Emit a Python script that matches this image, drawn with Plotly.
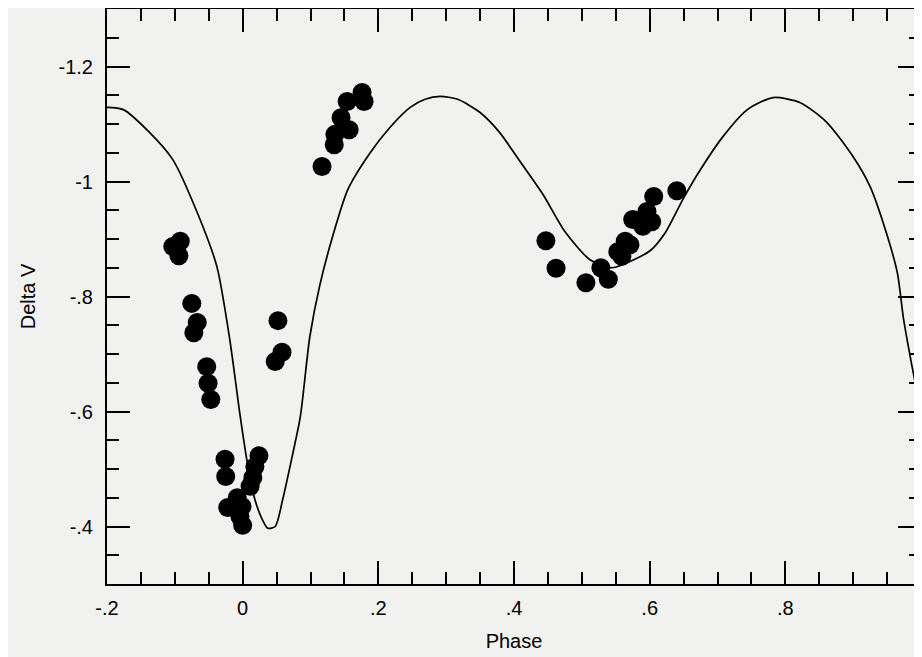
import plotly.graph_objects as go

# Observed data points (phase, delta V)
obs_phase = [-0.092, -0.103, -0.094, -0.075, -0.067, -0.072, -0.053, -0.051, -0.047,
             0.052, 0.058, 0.048,
             -0.026, -0.025, 0.024, 0.018, 0.015, 0.011, -0.008, -0.022, -0.001, -0.004, 0.000,
             0.176, 0.179, 0.154, 0.145, 0.157, 0.136, 0.135, 0.117,
             0.447, 0.462, 0.506, 0.528, 0.539, 0.553, 0.559, 0.564, 0.571, 0.575, 0.590,
             0.603, 0.596, 0.606, 0.640]
obs_dv = [-0.896, -0.887, -0.871, -0.788, -0.755, -0.737, -0.678, -0.649, -0.621,
          -0.758, -0.703, -0.687,
          -0.517, -0.487, -0.523, -0.504, -0.485, -0.470, -0.450, -0.433, -0.435, -0.417, -0.402,
          -1.155, -1.139, -1.139, -1.111, -1.090, -1.082, -1.064, -1.026,
          -0.897, -0.849, -0.824, -0.850, -0.830, -0.878, -0.870, -0.896, -0.890, -0.934, -0.922,
          -0.930, -0.948, -0.974, -0.984]

# Model light curve
model_phase = [-0.200, -0.176, -0.137, -0.103, -0.067, -0.038, -0.019, -0.004,
               0.006, 0.018, 0.029, 0.037, 0.048, 0.059, 0.073, 0.085, 0.099, 0.114,
               0.133, 0.155, 0.188, 0.217, 0.247, 0.269, 0.291, 0.317, 0.350, 0.379,
               0.410, 0.443, 0.475, 0.512, 0.545, 0.575, 0.601, 0.623, 0.649, 0.674,
               0.708, 0.744, 0.782, 0.822, 0.861, 0.900, 0.925, 0.944, 0.965, 0.974,
               0.984, 0.994, 1.000]
model_dv = [-1.129, -1.125, -1.085, -1.038, -0.946, -0.852, -0.725, -0.595,
            -0.517, -0.447, -0.412, -0.397, -0.400, -0.447, -0.522, -0.591, -0.730, -0.821,
            -0.906, -0.986, -1.050, -1.094, -1.129, -1.143, -1.148, -1.143, -1.120, -1.085,
            -1.033, -0.977, -0.913, -0.864, -0.850, -0.863, -0.880, -0.911, -0.969, -1.019,
            -1.078, -1.125, -1.146, -1.137, -1.103, -1.043, -0.991, -0.929, -0.842, -0.763,
            -0.696, -0.633, -0.584]

x_tickvals = [-0.2, 0, 0.2, 0.4, 0.6, 0.8, 1.0]
x_ticktext = ["-.2", "0", ".2", ".4", ".6", ".8", "1"]
y_tickvals = [-1.2, -1.0, -0.8, -0.6, -0.4]
y_ticktext = ["-1.2", "-1", "-.8", "-.6", "-.4"]

FONT = "Liberation Sans, Arial, Helvetica, sans-serif"
BG = "#f1f1ef"

fig = go.Figure()
fig.add_trace(go.Scatter(x=model_phase, y=model_dv, mode="lines",
                         line=dict(color="black", width=1.7, shape="spline", smoothing=0.7),
                         hoverinfo="skip", showlegend=False))
fig.add_trace(go.Scatter(x=obs_phase, y=obs_dv, mode="markers",
                         marker=dict(color="black", size=19, line=dict(width=0)),
                         showlegend=False))

axis_common = dict(showgrid=False, zeroline=False, showline=True, linecolor="black",
                   linewidth=2, mirror="ticks", ticks="inside", tickcolor="black",
                   tickwidth=2, ticklen=23, automargin=False,
                   tickfont=dict(family=FONT, size=20, color="black"))

fig.update_xaxes(range=[-0.2, 1.0], tickmode="array", tickvals=x_tickvals, ticktext=x_ticktext,
                 minor=dict(dtick=0.05, tick0=0, ticks="inside", ticklen=12, tickwidth=2,
                            tickcolor="black", showgrid=False),
                 title=dict(text="Phase", font=dict(family=FONT, size=20, color="black"),
                            standoff=16),
                 ticklabelstandoff=5, ticklabeloverflow="allow",
                 **axis_common)
fig.update_yaxes(range=[-0.3, -1.3], tickmode="array", tickvals=y_tickvals, ticktext=y_ticktext,
                 minor=dict(dtick=0.05, tick0=0, ticks="inside", ticklen=12, tickwidth=2,
                            tickcolor="black", showgrid=False),
                 title=dict(text="Delta V", font=dict(family=FONT, size=20, color="black"),
                            standoff=18),
                 ticklabelstandoff=8,
                 **axis_common)

fig.update_layout(width=914, height=649,
                  margin=dict(l=99, r=1, t=1, b=73, autoexpand=False),
                  paper_bgcolor=BG, plot_bgcolor=BG,
                  font=dict(family=FONT, size=20, color="black"))

fig.write_html("out.html", config={"displayModeBar": False})
